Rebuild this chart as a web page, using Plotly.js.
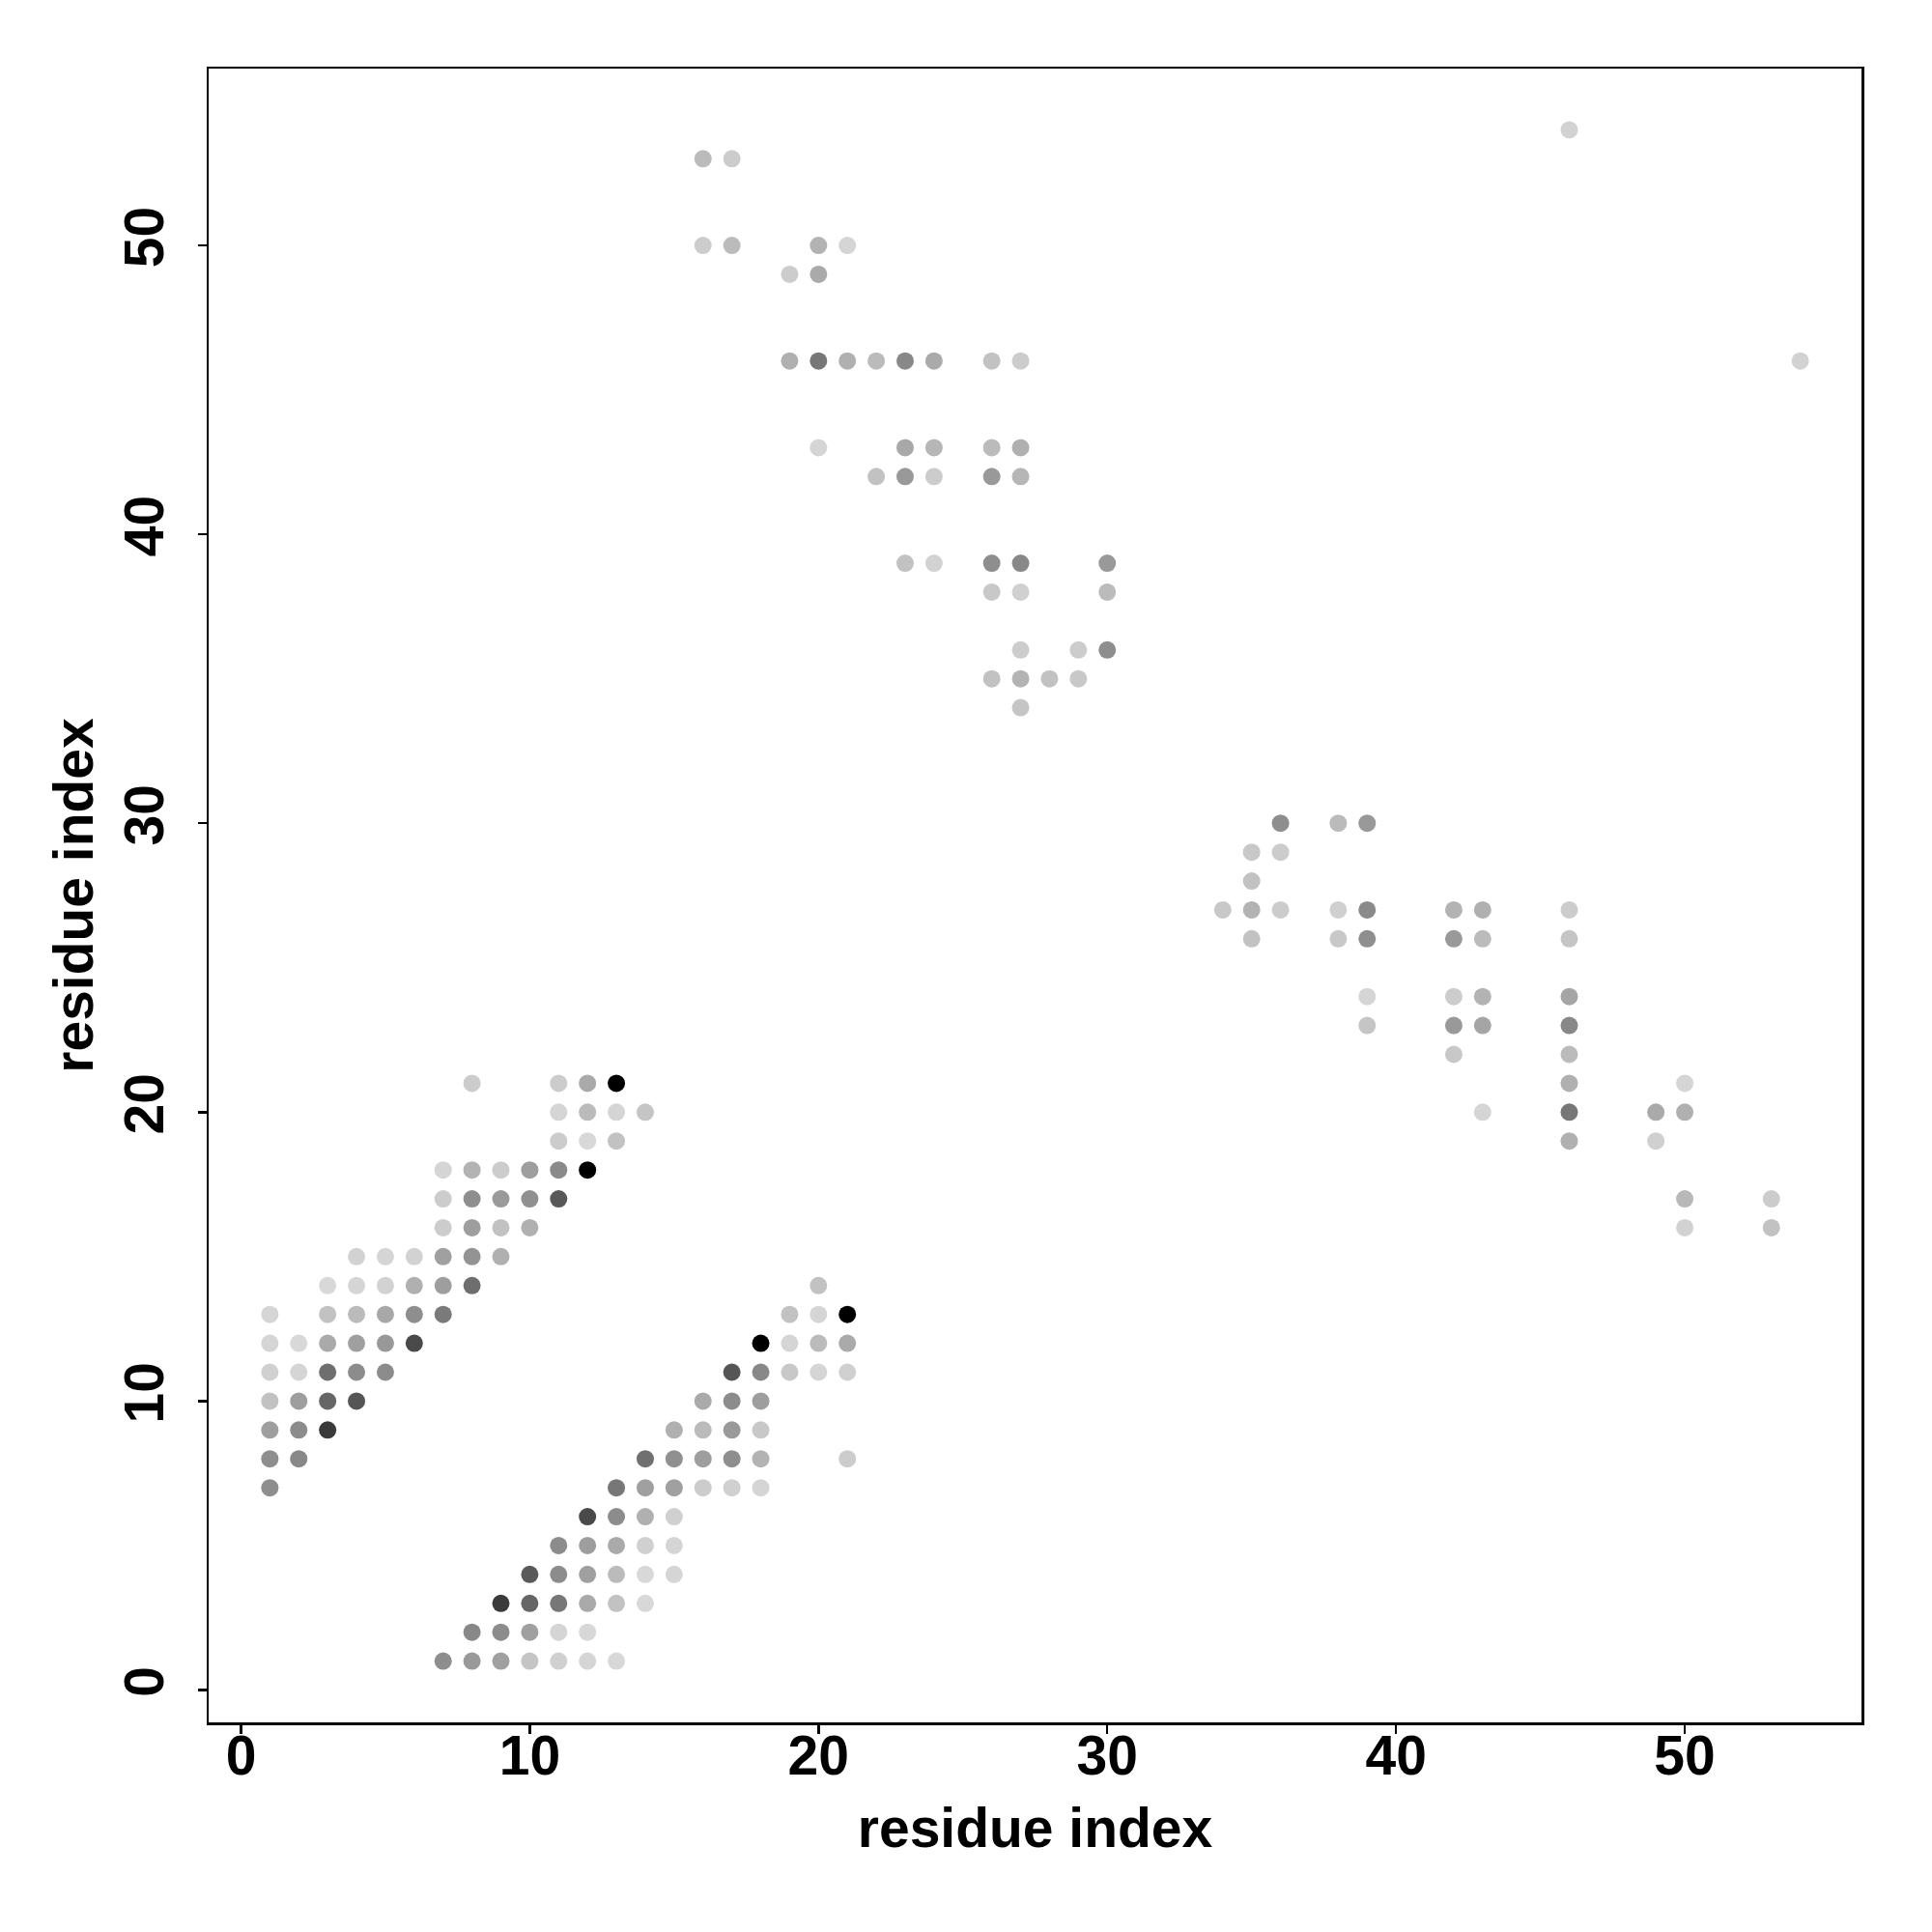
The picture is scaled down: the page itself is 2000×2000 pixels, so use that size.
<!DOCTYPE html>
<html>
<head>
<meta charset="utf-8">
<script src="https://cdn.plot.ly/plotly-3.0.1.min.js"></script>
<style>html,body{margin:0;padding:0;background:#fff;}#chart{width:2000px;height:2000px;}</style>
</head>
<body>
<div id="chart"></div>
<script>
// Contact points: residue i (x), residue j (y), grey level (0 = black, 255 = white)
const resX = [
  // lower-left block, above diagonal
  8,11,12,13,
  11,12,13,14,
  11,12,13,
  7,8,9,10,11,12,
  7,8,9,10,11,
  7,8,9,10,
  4,5,6,7,8,9,
  3,4,5,6,7,8,
  1,3,4,5,6,7,
  1,2,3,4,5,6,
  1,2,3,4,5,
  1,2,3,4,
  1,2,3,
  1,2,
  1,
  // lower-left block, below diagonal
  20,
  19,20,21,
  18,19,20,21,
  17,18,19,20,21,
  16,17,18,
  15,16,17,18,
  14,15,16,17,18,21,
  13,14,15,16,17,18,
  12,13,14,15,
  11,12,13,14,15,
  10,11,12,13,14,15,
  9,10,11,12,13,14,
  8,9,10,11,12,
  7,8,9,10,11,12,13,
  // upper block
  46,
  16,17,
  16,17,20,21,
  19,20,
  19,20,21,22,23,24,26,27,
  20,23,24,26,27,
  22,23,24,26,27,
  23,24,26,27,30,
  26,27,30,
  27,29,30,
  26,27,28,29,
  27,
  // right block
  54,
  36,38,39,
  35,36,
  35,
  34,35,36,38,39,42,43,46,
  35,38,39,42,43,46,
  39,42,43,46,
  39,42,43,46,
  42,46,
  46,50,
  43,46,49,50,
  46,49,
  50,53,
  50,53
];
const resY = [
  21,21,21,21,
  20,20,20,20,
  19,19,19,
  18,18,18,18,18,18,
  17,17,17,17,17,
  16,16,16,16,
  15,15,15,15,15,15,
  14,14,14,14,14,14,
  13,13,13,13,13,13,
  12,12,12,12,12,12,
  11,11,11,11,11,
  10,10,10,10,
  9,9,9,
  8,8,
  7,
  14,
  13,13,13,
  12,12,12,12,
  11,11,11,11,11,
  10,10,10,
  9,9,9,9,
  8,8,8,8,8,8,
  7,7,7,7,7,7,
  6,6,6,6,
  5,5,5,5,5,
  4,4,4,4,4,4,
  3,3,3,3,3,3,
  2,2,2,2,2,
  1,1,1,1,1,1,1,
  54,
  53,53,
  50,50,50,50,
  49,49,
  46,46,46,46,46,46,46,46,
  43,43,43,43,43,
  42,42,42,42,42,
  39,39,39,39,39,
  38,38,38,
  36,36,36,
  35,35,35,35,
  34,
  46,
  30,30,30,
  29,29,
  28,
  27,27,27,27,27,27,27,27,
  26,26,26,26,26,26,
  24,24,24,24,
  23,23,23,23,
  22,22,
  21,21,
  20,20,20,20,
  19,19,
  17,17,
  16,16
];
const greyLevel = [
  204,204,170,0,
  213,187,213,197,
  204,216,194,
  213,179,204,158,138,0,
  204,142,154,144,88,
  204,158,194,176,
  210,213,210,160,147,176,
  216,213,210,176,158,110,
  213,194,187,168,142,122,
  213,216,170,160,153,74,
  208,213,110,140,140,
  194,158,102,85,
  158,140,58,
  142,136,
  142,
  194,
  194,213,0,
  0,213,187,170,
  85,136,200,213,208,
  170,140,158,
  176,187,153,200,
  112,144,158,142,179,204,
  119,160,160,204,208,213,
  74,140,176,208,
  140,158,170,208,213,
  90,140,160,187,216,213,
  58,102,119,170,194,216,
  136,140,160,213,216,
  142,153,160,197,208,213,216,
  210,
  187,204,
  204,187,179,213,
  204,170,
  176,119,176,187,136,170,194,204,
  213,168,182,187,176,
  194,153,204,153,182,
  194,210,142,136,153,
  200,208,187,
  204,204,142,
  194,179,194,200,
  197,
  210,
  142,187,153,
  200,204,
  194,
  200,179,204,208,138,179,176,204,
  194,200,142,153,187,197,
  213,204,179,165,
  197,153,165,136,
  200,187,
  176,213,
  213,119,170,176,
  176,208,
  184,204,
  210,194
];
const tickValues = [0, 10, 20, 30, 40, 50];
const axisTitle = 'residue index';

const fontFamily = '"Liberation Sans", Arial, Helvetica, sans-serif';
const trace = {
  type: 'scatter',
  mode: 'markers',
  x: resX,
  y: resY,
  marker: {
    size: 18,
    color: greyLevel,
    cmin: 0,
    cmax: 255,
    colorscale: [[0, 'rgb(0,0,0)'], [1, 'rgb(255,255,255)']],
    showscale: false,
    line: {width: 0}
  },
  hoverinfo: 'x+y'
};

const axisCommon = {
  range: [-1.12, 56.12],
  tickmode: 'array',
  tickvals: tickValues,
  ticktext: tickValues.map(String),
  ticks: 'outside',
  ticklen: 9,
  tickwidth: 2.5,
  tickcolor: '#000',
  showline: true,
  linecolor: '#000',
  linewidth: 2.5,
  mirror: true,
  showgrid: false,
  zeroline: false,
  automargin: false,
  tickfont: {family: fontFamily, size: 57, color: '#000', weight: 'bold'}
};

const layout = {
  width: 2000,
  height: 2000,
  paper_bgcolor: '#fff',
  plot_bgcolor: '#fff',
  showlegend: false,
  margin: {l: 216, r: 73, t: 71, b: 217, pad: 0},
  xaxis: Object.assign({}, axisCommon, {
    ticklabelstandoff: -26,
    title: {text: axisTitle, standoff: 24, font: {family: fontFamily, size: 57, color: '#000', weight: 'bold'}}
  }),
  yaxis: Object.assign({}, axisCommon, {
    tickangle: -90,
    ticklabelstandoff: 13,
    title: {text: axisTitle, standoff: 2, font: {family: fontFamily, size: 57, color: '#000', weight: 'bold'}}
  })
};

Plotly.newPlot('chart', [trace], layout, {staticPlot: true, displayModeBar: false});
</script>
</body>
</html>
